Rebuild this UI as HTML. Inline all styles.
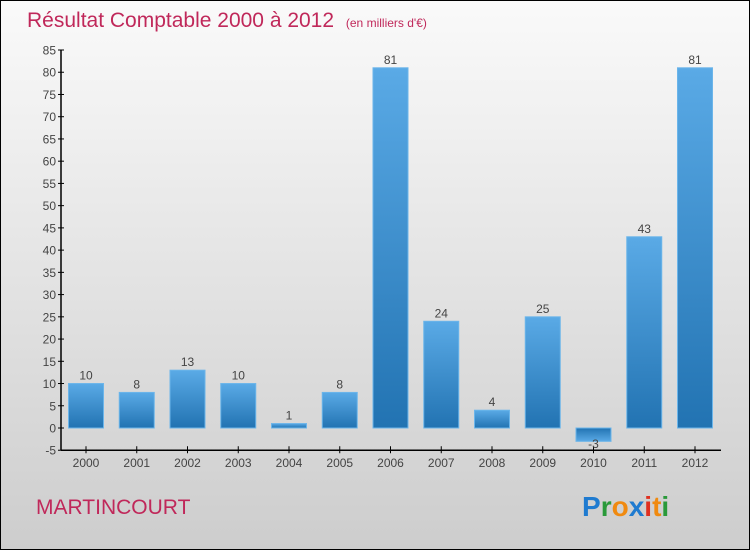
<!DOCTYPE html>
<html><head><meta charset="utf-8"><style>
body{margin:0;}
#c{width:750px;height:550px;position:relative;font-family:"Liberation Sans",sans-serif;}
</style></head><body>
<div id="c">
<svg id="s" width="750" height="550" xmlns="http://www.w3.org/2000/svg">
<defs>
<linearGradient id="bg" x1="0" y1="0" x2="0" y2="1"><stop offset="0" stop-color="#fafafa"/><stop offset="1" stop-color="#cdcdcd"/></linearGradient>
<linearGradient id="bar" x1="0" y1="0" x2="0" y2="1"><stop offset="0" stop-color="#5aaae6"/><stop offset="1" stop-color="#2273b2"/></linearGradient>
<linearGradient id="barn" x1="0" y1="1" x2="0" y2="0"><stop offset="0" stop-color="#5aaae6"/><stop offset="1" stop-color="#2273b2"/></linearGradient>
</defs>
<rect x="0.5" y="0.5" width="749" height="549" fill="url(#bg)" stroke="#000"/>
<text x="27" y="27" font-size="21" fill="#c0285a">Résultat Comptable 2000 à 2012 <tspan font-size="12" dx="6">(en milliers d'€)</tspan></text>
<g id="plot"></g>
<text x="36" y="514" font-size="21" fill="#c0285a">MARTINCOURT</text>
<text x="582" y="516" font-size="28" font-weight="bold"><tspan fill="#1f7bd0">P</tspan><tspan fill="#2a9a3a">r</tspan><tspan fill="#f08a10">o</tspan><tspan fill="#1f7bd0">x</tspan><tspan fill="#e03020">i</tspan><tspan fill="#f08a10">t</tspan><tspan fill="#2a9a3a">i</tspan></text>
</svg>
</div>
<script>
const categories=["2000","2001","2002","2003","2004","2005","2006","2007","2008","2009","2010","2011","2012"];
const values=[10,8,13,10,1,8,81,24,4,25,-3,43,81];
const yTicks=[-5,0,5,10,15,20,25,30,35,40,45,50,55,60,65,70,75,80,85];
const NS="http://www.w3.org/2000/svg";
const g=document.getElementById("plot");
const y=v=>428-(v)*4.447;
const x=i=>86+i*50.75;
function mk(t,a,txt){const e=document.createElementNS(NS,t);for(const k in a)e.setAttribute(k,a[k]);if(txt!==undefined)e.textContent=txt;g.appendChild(e);return e;}
let ax=mk("line",{x1:61,y1:y(85),x2:61,y2:y(-5),stroke:"#000","stroke-width":1.5});


let bx=mk("line",{x1:61,y1:y(-5),x2:721,y2:y(-5),stroke:"#000","stroke-width":1.5});


yTicks.forEach(t=>{
 mk("line",{x1:58,y1:y(t),x2:64,y2:y(t),stroke:"#000"});
 let e=mk("text",{x:56,y:y(t)+4.5,"font-size":12,fill:"#444","text-anchor":"end"},String(t));
 
 
});
categories.forEach((c,i)=>{
 const v=values[i],cx=x(i);
 mk("line",{x1:cx,y1:y(-5)-4,x2:cx,y2:y(-5)+3,stroke:"#000"});
 let l=mk("text",{x:cx,y:467,"font-size":12,fill:"#444","text-anchor":"middle"},c);
 
 
 const top=Math.min(y(v),y(0)),h=Math.abs(y(v)-y(0));
 let r=mk("rect",{x:cx-17.5,y:top,width:35,height:Math.max(h,1),fill:v<0?"url(#barn)":"url(#bar)",stroke:"#6bb5ea","stroke-width":1});
 
 
 let t=mk("text",{x:cx,y:v<0?y(0)+20:y(v)-4,"font-size":12,fill:"#444","text-anchor":"middle"},String(v));
 
 
});
</script>
</body></html>
